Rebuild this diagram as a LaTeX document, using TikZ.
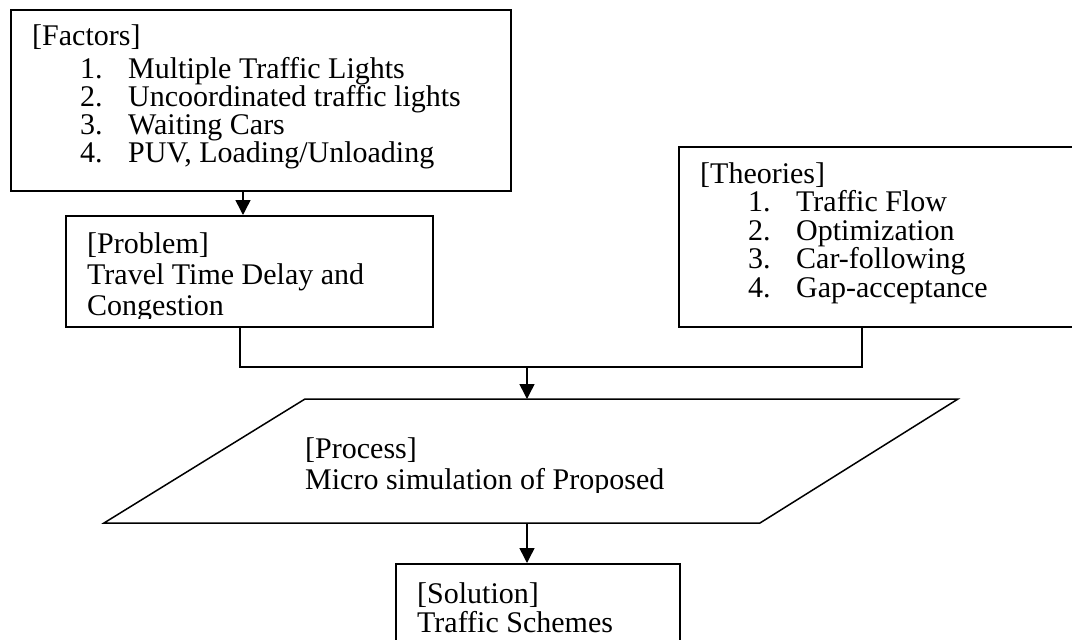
\documentclass[tikz,border=0pt]{standalone}
\usepackage{fontspec}
\setmainfont{Liberation Serif}
\usetikzlibrary{positioning, calc, arrows.meta}

% numbered line inside a box
\newcommand{\itm}[2]{\hspace*{48pt}\makebox[48pt][l]{#1.}#2}

\begin{document}
\begin{tikzpicture}[x=1pt, y=-1pt,
    frame/.style={draw, line width=1.5pt, inner sep=0pt, anchor=north west},
    words/.style={anchor=base west, inner sep=0pt, align=left},
    link/.style={line width=1.5pt},
    arr/.style={link, -{Triangle[length=15pt, width=15pt]}}]

    \useasboundingbox (0,0) rectangle (1072,640);
    \clip (0,0) rectangle (1072,640);

    % Boxes
    \node[frame, minimum width=500pt, minimum height=181pt] (factors) at (10,9) {};
    \node[frame, minimum width=367pt, minimum height=111pt] (prob) at (65,215) {};
    \node[frame, minimum width=420pt, minimum height=180pt] (theo) at (678,146) {};
    \node[frame, minimum width=284pt, minimum height=100pt] (sol) at (395,563) {};

    % Process parallelogram
    \coordinate (proc-nw) at (305,399);
    \coordinate (proc-ne) at (958,399);
    \coordinate (proc-se) at (760,523);
    \coordinate (proc-sw) at (104,523);
    \draw[link] (proc-nw) -- (proc-ne) -- (proc-se) -- (proc-sw) -- cycle;

    % Texts (placed by the baseline of their last line)
    \node[words, font=\fontsize{30}{28}\selectfont] (factors-txt) at (32,162)
        {[Factors]\\[5pt]
         \itm{1}{Multiple Traffic Lights}\\
         \itm{2}{Uncoordinated traffic lights}\\
         \itm{3}{Waiting Cars}\\
         \itm{4}{PUV, Loading/Unloading}};
    \node[words, font=\fontsize{30}{28.5}\selectfont] (theo-txt) at (700,297)
        {[Theories]\\
         \itm{1}{Traffic Flow}\\
         \itm{2}{Optimization}\\
         \itm{3}{Car-following}\\
         \itm{4}{Gap-acceptance}};
    \begin{scope}
        \clip (prob.north west) rectangle (432,318);
        \node[words, font=\fontsize{30}{31}\selectfont] (prob-txt) at (87,315)
            {[Problem]\\Travel Time Delay and\\Congestion};
    \end{scope}
    \begin{scope}
        \clip (300,420) rectangle (800,492);
        \node[words, font=\fontsize{30}{31}\selectfont] (proc-txt) at (305,489)
            {[Process]\\Micro simulation of Proposed};
    \end{scope}
    \node[words, font=\fontsize{30}{29}\selectfont] (sol-txt) at (417,632)
        {[Solution]\\Traffic Schemes};

    % Connectors
    \coordinate (fac-x) at (243,0);
    \coordinate (prob-x) at (240,0);
    \coordinate (theo-x) at (862,0);
    \coordinate (join) at (527,367);
    \draw[arr] (factors.south -| fac-x) -- (prob.north -| fac-x);
    \draw[link] (prob.south -| prob-x) |- (join) -| (theo.south -| theo-x);
    \draw[arr] (join) -- (join |- proc-nw);
    \draw[arr] (join |- proc-sw) -- (sol.north -| join);

\end{tikzpicture}
\end{document}
